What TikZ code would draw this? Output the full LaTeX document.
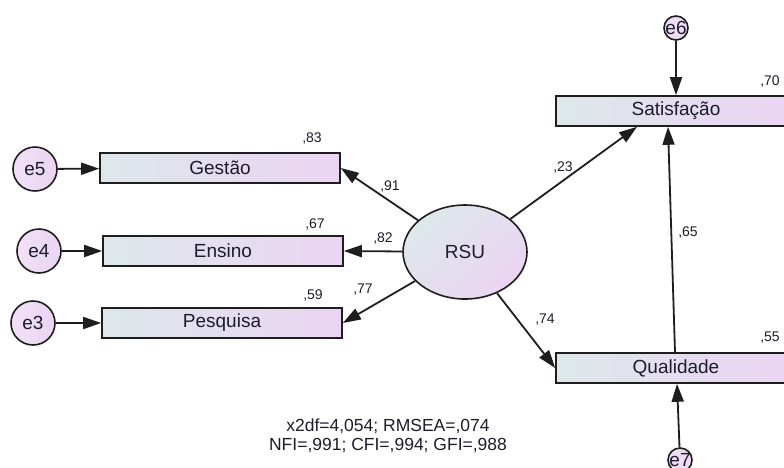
\documentclass[tikz,border=0pt]{standalone}
\usepackage{fontspec}
\setmainfont{Liberation Sans}
\usetikzlibrary{arrows.meta,calc,shapes.geometric}
\definecolor{fillL}{RGB}{221,232,234}
\definecolor{fillR}{RGB}{235,212,243}
\definecolor{edgec}{RGB}{30,30,30}
\definecolor{txt}{RGB}{28,28,45}
\begin{document}
\begin{tikzpicture}[x=1pt,y=-1pt,
  obs/.style={draw=edgec,line width=1.6pt,left color=fillL,right color=fillR,
    minimum width=240pt,minimum height=30pt,inner sep=0pt,
    font=\fontsize{19}{22}\selectfont,text=txt},
  err/.style={circle,draw=edgec,line width=1.6pt,left color=fillR!70!white,right color=fillR,
    minimum size=44pt,inner sep=0pt,font=\fontsize{19}{22}\selectfont,text=txt},
  smallerr/.style={circle,draw=edgec,line width=1.6pt,fill=fillR!80!white,
    minimum size=24pt,inner sep=0pt,
    label={[font=\fontsize{19}{22}\selectfont,text=txt]center:#1}},
  latent/.style={ellipse,draw=edgec,line width=1.6pt,left color=fillL,right color=fillR,
    shading angle=45,minimum width=124pt,minimum height=94pt,inner sep=0pt,
    font=\fontsize{19}{22}\selectfont,text=txt},
  num/.style={font=\fontsize{14}{16}\selectfont,text=txt,inner sep=0pt},
  conn/.style={draw=edgec,line width=1.8pt,-{Triangle[length=18pt,width=12pt]}}
]
\useasboundingbox (0,0) rectangle (784,467);
\clip (0,0) rectangle (784,467);

% observed variables
\node[obs] (gestao) at (220,168) {Gestão};
\node[obs] (ensino) at (223,251) {Ensino};
\node[obs] (pesquisa) at (222,323) {Pesquisa};
\node[obs] (sat) at (676,111) {Satisfação};
\node[obs] (qual) at (676,368) {Qualidade};

% latent
\node[latent] (rsu) at (465,252) {RSU};

% errors
\node[err] (e5) at (35,169) {e5};
\node[err] (e4) at (39,251) {e4};
\node[err] (e3) at (33,323) {e3};
\node[smallerr=e6] (e6) at (676,28) {};
\node[smallerr=e7] (e7) at (680,460) {};

% connectors
\draw[conn] (e5) -- (gestao);
\draw[conn] (e4) -- (ensino);
\draw[conn] (e3) -- (pesquisa);
\draw[conn] (rsu) -- (gestao.east);
\draw[conn] (rsu) -- (ensino.east);
\draw[conn] (rsu) -- (pesquisa.east);
\draw[conn] (rsu) -- ($(sat.south)+(-39,0)$);
\draw[conn] (rsu) -- (qual.west);
\draw[conn] ($(qual.north)+(-1,0)$) -- ($(sat.south)+(-8,0)$);
\draw[conn] (e6) -- (sat.north);
\draw[conn] (e7) -- ($(qual.south)+(1,0)$);

% coefficients
\node[num] (r83) at (312,139) {,83};
\node[num] (r67) at (315,224) {,67};
\node[num] (r59) at (313,295) {,59};
\node[num] (r70) at (770,82) {,70};
\node[num] (r55) at (770,338) {,55};
\node[num] (w91) at (390,187) {,91};
\node[num] (w82) at (383,238) {,82};
\node[num] (w77) at (363,290) {,77};
\node[num] (w23) at (563,167) {,23};
\node[num] (w65) at (688,232) {,65};
\node[num] (w74) at (545,320) {,74};

% fit indices
\node[font=\fontsize{17.5}{19.5}\selectfont,text=txt,align=center,inner sep=0pt] (fit) at (388,436)
  {x2df=4,054; RMSEA=,074\\NFI=,991; CFI=,994; GFI=,988};
\end{tikzpicture}
\end{document}
